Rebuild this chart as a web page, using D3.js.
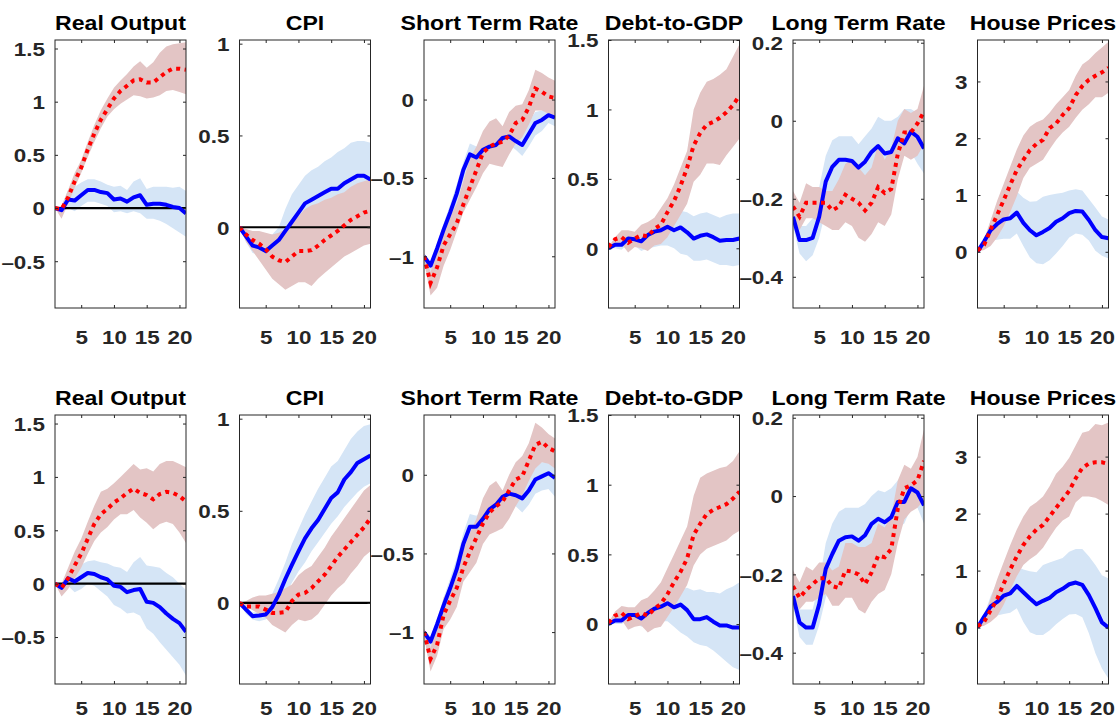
<!DOCTYPE html>
<html>
<head>
<meta charset="utf-8">
<script src="https://cdn.jsdelivr.net/npm/d3@7"></script>
<style>
  body { margin: 0; background: #fff; }
  svg text { font-family: "Liberation Sans", Arial, Helvetica, sans-serif; font-weight: bold; }
</style>
</head>
<body>
<div id="chart"></div>
<script>
// ---- chart values ----
const titles = ["Real Output", "CPI", "Short Term Rate", "Debt-to-GDP", "Long Term Rate", "House Prices"];
const horizons = [1, 2, 3, 4, 5, 6, 7, 8, 9, 10, 11, 12, 13, 14, 15, 16, 17, 18, 19, 20, 21];
const xTicks = [5, 10, 15, 20];
const yDomains = [[-0.94, 1.58], [-0.44, 1.02], [-1.33, 0.38], [-0.43, 1.5], [-0.48, 0.207], [-0.99, 3.73]];
const yTicks = [[-0.5, 0, 0.5, 1, 1.5], [0, 0.5, 1], [-1, -0.5, 0], [0, 0.5, 1, 1.5], [-0.4, -0.2, 0, 0.2], [0, 1, 2, 3]];
const zeroLine = [true, true, false, false, false, false];

// top row
const topBlue = [
  [0, -0.02, 0.08, 0.07, 0.12, 0.17, 0.17, 0.15, 0.14, 0.08, 0.09, 0.06, 0.1, 0.12, 0.03, 0.04, 0.04, 0.03, 0.01, 0.0, -0.05],
  [0, -0.05, -0.1, -0.11, -0.13, -0.1, -0.07, -0.02, 0.03, 0.08, 0.13, 0.15, 0.17, 0.19, 0.21, 0.21, 0.24, 0.26, 0.28, 0.28, 0.26],
  [-1.0, -1.06, -0.95, -0.83, -0.72, -0.6, -0.45, -0.35, -0.37, -0.32, -0.3, -0.29, -0.245, -0.235, -0.265, -0.29, -0.22, -0.15, -0.13, -0.1, -0.115],
  [0, 0.025, 0.025, 0.07, 0.065, 0.05, 0.095, 0.12, 0.13, 0.155, 0.13, 0.15, 0.115, 0.07, 0.09, 0.1, 0.08, 0.055, 0.06, 0.06, 0.07],
  [-0.246, -0.306, -0.306, -0.3, -0.246, -0.156, -0.118, -0.1, -0.1, -0.103, -0.12, -0.105, -0.08, -0.065, -0.084, -0.08, -0.045, -0.058, -0.028, -0.041, -0.071],
  [0, 0.18, 0.38, 0.49, 0.57, 0.59, 0.69, 0.51, 0.38, 0.29, 0.35, 0.42, 0.53, 0.59, 0.68, 0.72, 0.71, 0.56, 0.38, 0.26, 0.24]
];
const topBlueLo = [
  [0, -0.05, 0.0, -0.03, 0.02, 0.06, 0.06, 0.04, 0.02, -0.04, -0.03, -0.05, -0.03, -0.05, -0.1, -0.1, -0.12, -0.15, -0.19, -0.23, -0.27],
  [0, -0.08, -0.14, -0.15, -0.15, -0.13, -0.1, -0.05, 0.0, 0.04, 0.07, 0.09, 0.1, 0.12, 0.14, 0.15, 0.17, 0.19, 0.21, 0.22, 0.22],
  [-1.03, -1.1, -1.0, -0.88, -0.78, -0.66, -0.52, -0.42, -0.43, -0.37, -0.35, -0.34, -0.3, -0.29, -0.32, -0.36, -0.3, -0.23, -0.2, -0.15, -0.17],
  [0, 0.0, -0.01, 0.03, 0.02, -0.02, 0.0, 0.01, 0.02, 0.02, 0.0, -0.04, -0.05, -0.09, -0.09, -0.08, -0.1, -0.12, -0.12, -0.13, -0.12],
  [-0.27, -0.34, -0.36, -0.345, -0.3, -0.23, -0.18, -0.17, -0.17, -0.17, -0.19, -0.16, -0.14, -0.12, -0.13, -0.11, -0.1, -0.09, -0.08, -0.11, -0.135],
  [0, 0.1, 0.2, 0.21, 0.23, 0.23, 0.32, 0.1, -0.1, -0.2, -0.22, -0.15, -0.03, 0.1, 0.25, 0.32, 0.3, 0.2, 0.02, -0.07, -0.12]
];
const topBlueHi = [
  [0, 0.02, 0.17, 0.2, 0.24, 0.27, 0.27, 0.25, 0.22, 0.2, 0.21, 0.17, 0.25, 0.28, 0.18, 0.2, 0.2, 0.2, 0.19, 0.2, 0.16],
  [0, -0.02, -0.03, -0.04, -0.04, -0.04, 0.0, 0.1, 0.18, 0.23, 0.28, 0.31, 0.33, 0.36, 0.38, 0.41, 0.43, 0.46, 0.47, 0.47, 0.46],
  [-0.98, -1.03, -0.92, -0.79, -0.67, -0.54, -0.4, -0.28, -0.3, -0.28, -0.26, -0.25, -0.21, -0.19, -0.2, -0.2, -0.14, -0.08, -0.07, -0.06, -0.06],
  [0, 0.04, 0.05, 0.1, 0.09, 0.07, 0.12, 0.15, 0.17, 0.2, 0.22, 0.27, 0.26, 0.23, 0.25, 0.26, 0.24, 0.22, 0.24, 0.25, 0.25],
  [-0.22, -0.27, -0.27, -0.25, -0.17, -0.09, -0.05, -0.04, -0.04, -0.04, -0.06, -0.04, -0.02, 0.01, 0.0, 0.0, 0.01, 0.03, 0.03, 0.02, 0.03],
  [0, 0.22, 0.55, 0.8, 0.95, 1.03, 1.06, 0.95, 0.88, 0.89, 0.97, 1.0, 1.02, 1.04, 1.08, 1.1, 1.08, 0.93, 0.78, 0.62, 0.57]
];
const topRed = [
  [0, -0.01, 0.1, 0.25, 0.38, 0.55, 0.7, 0.83, 0.93, 1.03, 1.1, 1.15, 1.2, 1.21, 1.18, 1.18, 1.23, 1.28, 1.31, 1.31, 1.3],
  [0, -0.04, -0.07, -0.09, -0.12, -0.16, -0.18, -0.19, -0.16, -0.13, -0.13, -0.125, -0.1, -0.07, -0.045, -0.02, 0.01, 0.04, 0.06, 0.08, 0.09],
  [-1.0, -1.17, -1.07, -0.93, -0.86, -0.79, -0.67, -0.56, -0.45, -0.34, -0.3, -0.28, -0.27, -0.23, -0.15, -0.13, -0.05, 0.07, 0.05, 0.02, 0.01],
  [0.01, 0.065, 0.08, 0.04, 0.07, 0.095, 0.085, 0.14, 0.17, 0.26, 0.34, 0.45, 0.58, 0.74, 0.83, 0.89, 0.91, 0.94, 0.98, 1.03, 1.1],
  [-0.22, -0.246, -0.21, -0.21, -0.21, -0.21, -0.23, -0.22, -0.19, -0.2, -0.21, -0.23, -0.21, -0.17, -0.185, -0.175, -0.085, -0.03, -0.03, -0.007, 0.023],
  [0.02, 0.12, 0.39, 0.65, 0.91, 1.18, 1.44, 1.62, 1.79, 1.9, 1.97, 2.18, 2.26, 2.41, 2.53, 2.76, 2.92, 3.03, 3.1, 3.16, 3.24]
];
const topRedLo = [
  [0, -0.1, 0.04, 0.19, 0.33, 0.48, 0.62, 0.75, 0.86, 0.93, 0.98, 1.02, 1.06, 1.05, 1.03, 1.04, 1.06, 1.1, 1.11, 1.09, 1.07],
  [0, -0.08, -0.13, -0.18, -0.23, -0.28, -0.31, -0.34, -0.32, -0.3, -0.3, -0.32, -0.28, -0.25, -0.22, -0.19, -0.16, -0.14, -0.12, -0.1, -0.09],
  [-1.03, -1.25, -1.2, -1.06, -0.96, -0.84, -0.72, -0.64, -0.56, -0.47, -0.41, -0.42, -0.43, -0.35, -0.28, -0.24, -0.16, -0.07, -0.07, -0.09, -0.1],
  [0.01, 0.03, 0.03, -0.03, 0.01, 0.0, -0.02, 0.02, 0.03, 0.08, 0.16, 0.24, 0.32, 0.48, 0.53, 0.61, 0.61, 0.6, 0.67, 0.73, 0.79],
  [-0.25, -0.28, -0.25, -0.25, -0.26, -0.27, -0.28, -0.28, -0.26, -0.27, -0.3, -0.31, -0.29, -0.26, -0.27, -0.24, -0.15, -0.09, -0.1, -0.09, -0.06],
  [0, 0.03, 0.1, 0.25, 0.45, 0.7, 0.98, 1.3, 1.48, 1.55, 1.62, 1.8, 1.97, 2.1, 2.2, 2.36, 2.5, 2.6, 2.72, 2.72, 2.8]
];
const topRedHi = [
  [0, 0.02, 0.17, 0.33, 0.45, 0.62, 0.78, 0.92, 1.03, 1.13, 1.2, 1.26, 1.33, 1.38, 1.32, 1.37, 1.46, 1.52, 1.54, 1.55, 1.56],
  [0, -0.01, -0.02, -0.02, -0.03, -0.04, -0.03, -0.01, 0.02, 0.06, 0.1, 0.12, 0.13, 0.15, 0.16, 0.18, 0.19, 0.22, 0.24, 0.25, 0.26],
  [-0.98, -1.1, -0.95, -0.8, -0.75, -0.66, -0.52, -0.38, -0.3, -0.2, -0.14, -0.12, -0.17, -0.08, -0.04, -0.03, 0.06, 0.19, 0.17, 0.14, 0.12],
  [0.01, 0.08, 0.13, 0.13, 0.12, 0.17, 0.19, 0.22, 0.29, 0.36, 0.46, 0.58, 0.7, 1.0, 1.12, 1.2, 1.22, 1.25, 1.29, 1.38, 1.47],
  [-0.18, -0.21, -0.16, -0.17, -0.17, -0.18, -0.18, -0.15, -0.11, -0.1, -0.12, -0.14, -0.12, -0.06, -0.1, -0.07, 0.0, 0.03, 0.02, 0.03, 0.09],
  [0, 0.2, 0.55, 0.9, 1.2, 1.5, 1.8, 2.05, 2.2, 2.28, 2.33, 2.45, 2.6, 2.72, 2.85, 3.1, 3.3, 3.38, 3.5, 3.6, 3.7]
];

// bottom row
const botBlue = [
  [0, -0.04, 0.05, 0.02, 0.06, 0.1, 0.09, 0.06, 0.04, -0.02, -0.03, -0.08, -0.06, -0.05, -0.17, -0.18, -0.22, -0.28, -0.33, -0.37, -0.45],
  [0, -0.036, -0.072, -0.068, -0.063, -0.023, 0.045, 0.13, 0.207, 0.28, 0.35, 0.405, 0.45, 0.51, 0.57, 0.6, 0.67, 0.71, 0.76, 0.78, 0.8],
  [-1.0, -1.06, -0.95, -0.83, -0.72, -0.6, -0.44, -0.33, -0.33, -0.28, -0.22, -0.19, -0.14, -0.12, -0.13, -0.15, -0.1, -0.03, -0.01, 0.01, -0.02],
  [0, 0.025, 0.025, 0.065, 0.065, 0.04, 0.08, 0.11, 0.125, 0.15, 0.12, 0.14, 0.1, 0.035, 0.035, 0.05, 0.017, -0.01, -0.01, -0.025, -0.025],
  [-0.255, -0.323, -0.336, -0.336, -0.276, -0.186, -0.148, -0.114, -0.105, -0.103, -0.114, -0.1, -0.071, -0.058, -0.067, -0.054, -0.015, -0.015, 0.02, 0.009, -0.024],
  [0, 0.19, 0.37, 0.45, 0.56, 0.6, 0.73, 0.62, 0.51, 0.41, 0.47, 0.52, 0.62, 0.68, 0.76, 0.79, 0.75, 0.57, 0.34, 0.09, 0.0]
];
const botBlueLo = [
  [0, -0.07, -0.02, -0.08, -0.05, 0.0, -0.02, -0.07, -0.12, -0.2, -0.23, -0.28, -0.27, -0.3, -0.42, -0.47, -0.55, -0.62, -0.69, -0.76, -0.86],
  [0, -0.06, -0.09, -0.1, -0.09, -0.07, -0.02, 0.05, 0.11, 0.17, 0.22, 0.28, 0.33, 0.38, 0.43, 0.47, 0.52, 0.56, 0.6, 0.63, 0.65],
  [-1.03, -1.1, -1.0, -0.88, -0.78, -0.66, -0.52, -0.4, -0.4, -0.34, -0.28, -0.25, -0.2, -0.18, -0.2, -0.24, -0.19, -0.12, -0.1, -0.09, -0.14],
  [0, 0.0, 0.0, 0.03, 0.02, -0.02, 0.0, 0.01, 0.02, 0.02, -0.02, -0.06, -0.09, -0.13, -0.15, -0.16, -0.19, -0.23, -0.27, -0.31, -0.33],
  [-0.28, -0.36, -0.38, -0.38, -0.33, -0.26, -0.22, -0.19, -0.18, -0.17, -0.19, -0.17, -0.14, -0.13, -0.13, -0.11, -0.08, -0.07, -0.03, -0.03, -0.07],
  [0, 0.12, 0.2, 0.21, 0.24, 0.26, 0.34, 0.1, -0.08, -0.13, -0.13, -0.05, 0.06, 0.15, 0.23, 0.24, 0.18, -0.1, -0.45, -0.72, -0.9]
];
const botBlueHi = [
  [0, -0.02, 0.1, 0.12, 0.18, 0.21, 0.22, 0.2, 0.19, 0.16, 0.15, 0.11, 0.2, 0.25, 0.17, 0.16, 0.15, 0.1, 0.06, 0.0, -0.06],
  [0, -0.02, -0.05, -0.05, -0.03, 0.05, 0.13, 0.22, 0.32, 0.4, 0.48, 0.55, 0.62, 0.68, 0.74, 0.77, 0.83, 0.89, 0.93, 0.96, 0.97],
  [-0.98, -1.03, -0.92, -0.78, -0.66, -0.53, -0.37, -0.25, -0.26, -0.22, -0.18, -0.15, -0.1, -0.07, -0.05, -0.05, -0.02, 0.07, 0.08, 0.08, 0.06],
  [0, 0.04, 0.05, 0.09, 0.09, 0.06, 0.1, 0.14, 0.17, 0.21, 0.22, 0.25, 0.26, 0.24, 0.25, 0.23, 0.23, 0.22, 0.25, 0.27, 0.3],
  [-0.23, -0.29, -0.29, -0.29, -0.22, -0.12, -0.07, -0.04, -0.03, -0.03, -0.03, -0.02, 0.0, 0.015, 0.01, 0.02, 0.04, 0.045, 0.04, 0.035, 0.02],
  [0, 0.22, 0.55, 0.8, 0.93, 1.0, 1.07, 1.02, 0.99, 0.97, 1.1, 1.14, 1.18, 1.22, 1.33, 1.38, 1.38, 1.25, 1.1, 0.92, 0.86]
];
const botRed = [
  [0, -0.04, 0.05, 0.17, 0.28, 0.42, 0.56, 0.65, 0.7, 0.76, 0.8, 0.85, 0.89, 0.85, 0.83, 0.79, 0.84, 0.86, 0.85, 0.82, 0.77],
  [0, -0.02, -0.02, -0.02, -0.036, -0.054, -0.054, -0.05, 0.01, 0.045, 0.054, 0.08, 0.117, 0.153, 0.2, 0.25, 0.29, 0.33, 0.37, 0.41, 0.46],
  [-1.0, -1.17, -1.08, -0.89, -0.8, -0.72, -0.59, -0.49, -0.4, -0.31, -0.24, -0.2, -0.17, -0.1, -0.03, -0.01, 0.09, 0.19, 0.21, 0.17, 0.15],
  [0.01, 0.06, 0.08, 0.035, 0.055, 0.08, 0.06, 0.11, 0.145, 0.215, 0.3, 0.375, 0.47, 0.64, 0.72, 0.79, 0.82, 0.84, 0.86, 0.9, 0.95],
  [-0.23, -0.26, -0.24, -0.225, -0.21, -0.21, -0.23, -0.235, -0.19, -0.193, -0.2, -0.225, -0.195, -0.152, -0.156, -0.135, -0.032, 0.02, 0.027, 0.04, 0.09],
  [0.02, 0.1, 0.3, 0.5, 0.77, 1.02, 1.25, 1.45, 1.6, 1.72, 1.8, 1.95, 2.1, 2.25, 2.4, 2.62, 2.8, 2.88, 2.9, 2.9, 2.87]
];
const botRedLo = [
  [0, -0.12, -0.05, 0.05, 0.15, 0.28, 0.4, 0.48, 0.53, 0.6, 0.65, 0.65, 0.69, 0.62, 0.57, 0.51, 0.56, 0.58, 0.56, 0.48, 0.38],
  [0, -0.02, -0.04, -0.06, -0.08, -0.12, -0.14, -0.16, -0.12, -0.09, -0.1, -0.09, -0.06, -0.01, 0.04, 0.08, 0.11, 0.16, 0.2, 0.25, 0.28],
  [-1.03, -1.25, -1.15, -0.98, -0.92, -0.84, -0.68, -0.62, -0.56, -0.44, -0.38, -0.36, -0.34, -0.28, -0.2, -0.13, -0.04, 0.04, 0.08, 0.07, 0.04],
  [0.01, 0.03, 0.03, -0.04, -0.02, -0.01, -0.06, -0.03, -0.02, 0.05, 0.12, 0.2, 0.28, 0.42, 0.5, 0.54, 0.56, 0.58, 0.6, 0.64, 0.67],
  [-0.26, -0.29, -0.27, -0.27, -0.26, -0.25, -0.28, -0.28, -0.26, -0.26, -0.29, -0.3, -0.27, -0.25, -0.24, -0.2, -0.12, -0.06, -0.04, -0.03, -0.01],
  [0, 0.03, 0.1, 0.2, 0.4, 0.66, 0.9, 1.1, 1.2, 1.28, 1.4, 1.58, 1.75, 1.88, 1.95, 2.2, 2.3, 2.3, 2.28, 2.22, 2.15]
];
const botRedHi = [
  [0, 0.0, 0.15, 0.3, 0.42, 0.58, 0.73, 0.86, 0.89, 0.94, 1.0, 1.06, 1.12, 1.07, 1.08, 1.05, 1.12, 1.15, 1.15, 1.12, 1.09],
  [0, 0.01, 0.03, 0.04, 0.04, 0.05, 0.06, 0.08, 0.1, 0.15, 0.18, 0.2, 0.25, 0.3, 0.36, 0.41, 0.46, 0.51, 0.56, 0.61, 0.64],
  [-0.98, -1.1, -0.95, -0.78, -0.72, -0.62, -0.48, -0.37, -0.28, -0.15, -0.07, -0.04, -0.1, 0.0, 0.08, 0.12, 0.2, 0.33, 0.3, 0.26, 0.23],
  [0.01, 0.09, 0.13, 0.12, 0.12, 0.17, 0.19, 0.24, 0.3, 0.4, 0.5, 0.6, 0.7, 0.92, 1.05, 1.08, 1.1, 1.12, 1.13, 1.17, 1.24],
  [-0.19, -0.22, -0.18, -0.19, -0.17, -0.17, -0.19, -0.18, -0.12, -0.12, -0.13, -0.13, -0.12, -0.07, -0.08, -0.05, 0.04, 0.08, 0.07, 0.1, 0.17],
  [0, 0.2, 0.5, 0.85, 1.15, 1.45, 1.72, 1.95, 2.12, 2.2, 2.3, 2.48, 2.7, 2.82, 2.98, 3.2, 3.42, 3.45, 3.57, 3.55, 3.6]
];

// ---- layout ----
const W = 1119, H = 719;
const panelLeft = 55, panelStep = 184.5, panelW = 131;
const rows = [
  { top: 40, h: 268, titleY: 30, xLabelY: 344, blue: topBlue, blueLo: topBlueLo, blueHi: topBlueHi, red: topRed, redLo: topRedLo, redHi: topRedHi },
  { top: 415, h: 269, titleY: 405, xLabelY: 715, blue: botBlue, blueLo: botBlueLo, blueHi: botBlueHi, red: botRed, redLo: botRedLo, redHi: botRedHi }
];

const blueBand = "#d5e5f6", redBand = "#e3c5c5";
const axisColor = "#262626";
const textScale = 1.18;

const svg = d3.select("#chart").append("svg")
  .attr("width", W).attr("height", H);

// matlab-style tick text, short thick dash for negatives
const fmt = d => d < 0 ? "\u2013" + Math.abs(d) : String(d);

rows.forEach((row, r) => {
  titles.forEach((title, i) => {
    const x0 = panelLeft + i * panelStep;
    const x = d3.scaleLinear().domain([1, 21]).range([0, panelW]);
    const y = d3.scaleLinear().domain(yDomains[i]).range([row.h, 0]);

    const g = svg.append("g").attr("transform", `translate(${x0},${row.top})`);

    const clipId = `clip-${r}-${i}`;
    g.append("clipPath").attr("id", clipId)
      .append("rect").attr("width", panelW).attr("height", row.h);

    const plot = g.append("g").attr("clip-path", `url(#${clipId})`);

    const band = (lo, hi) => d3.area()
      .x((d, k) => x(horizons[k]))
      .y0((d, k) => y(lo[k]))
      .y1((d, k) => y(hi[k]))(horizons);
    const line = vals => d3.line()
      .x((d, k) => x(horizons[k]))
      .y(d => y(d))(vals);

    // bands: blue underneath, red on top
    plot.append("path").attr("d", band(row.blueLo[i], row.blueHi[i])).attr("fill", blueBand);
    plot.append("path").attr("d", band(row.redLo[i], row.redHi[i])).attr("fill", redBand);

    if (zeroLine[i]) {
      plot.append("line")
        .attr("x1", x(1)).attr("x2", x(21))
        .attr("y1", y(0)).attr("y2", y(0))
        .attr("stroke", "#000").attr("stroke-width", 2.2);
    }

    plot.append("path").attr("d", line(row.blue[i]))
      .attr("fill", "none").attr("stroke", "#0000ff")
      .attr("stroke-width", 4).attr("stroke-linejoin", "round");
    plot.append("path").attr("d", line(row.red[i]))
      .attr("fill", "none").attr("stroke", "#ff0000")
      .attr("stroke-width", 4).attr("stroke-dasharray", "4,4.5");

    // inward ticks on all four sides
    const bottom = g.append("g").attr("transform", `translate(0,${row.h})`)
      .call(d3.axisBottom(x).tickValues(xTicks).tickSizeInner(-3).tickSizeOuter(0).tickFormat(fmt));
    bottom.selectAll("text")
      .attr("y", row.xLabelY - row.top - row.h).attr("dy", 0)
      .attr("transform", `scale(${textScale},1)`);

    g.append("g")
      .call(d3.axisTop(x).tickValues(xTicks).tickSizeInner(-3).tickSizeOuter(0).tickFormat(""));

    const left = g.append("g")
      .call(d3.axisLeft(y).tickValues(yTicks[i]).tickSizeInner(-3).tickSizeOuter(0).tickFormat(fmt));
    left.selectAll("text")
      .attr("x", -8.5).attr("dy", "0.36em")
      .attr("transform", `scale(${textScale},1)`);

    g.append("g").attr("transform", `translate(${panelW},0)`)
      .call(d3.axisRight(y).tickValues(yTicks[i]).tickSizeInner(-3).tickSizeOuter(0).tickFormat(""));

    g.selectAll(".domain").remove();
    g.selectAll(".tick line").attr("stroke", axisColor);
    g.selectAll(".tick text")
      .attr("fill", axisColor)
      .style("font-size", "19px");

    // axes box
    g.append("rect")
      .attr("width", panelW).attr("height", row.h)
      .attr("fill", "none").attr("stroke", axisColor).attr("stroke-width", 1);

    // panel title
    g.append("text")
      .attr("transform", `translate(${panelW / 2},${row.titleY - row.top}) scale(1.1,1)`)
      .attr("text-anchor", "middle")
      .attr("fill", "#000")
      .style("font-size", "21px")
      .text(title);
  });
});
</script>
</body>
</html>
